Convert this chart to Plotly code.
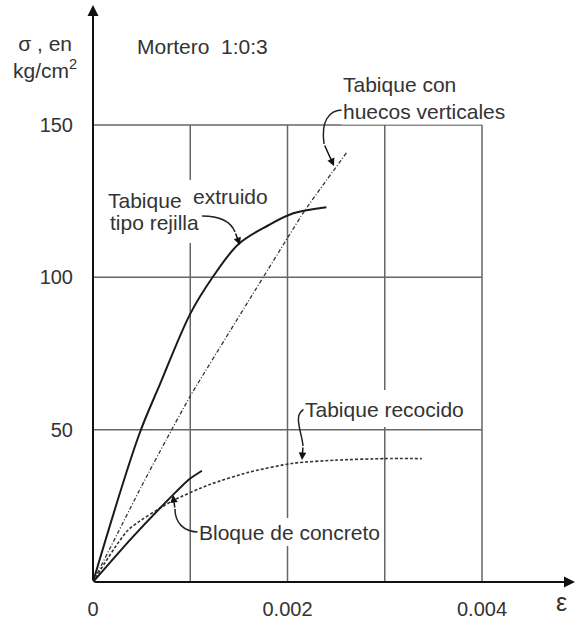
import plotly.graph_objects as go

# ---------------- data ----------------
ext_x = [0, 0.00047, 0.00069, 0.001, 0.00123, 0.0015, 0.0018, 0.00206, 0.0024]
ext_y = [0, 48, 65, 88, 100, 111, 117, 121, 123]

huecos_x = [0, 0.0005, 0.00075, 0.001, 0.00175, 0.00218, 0.00261]
huecos_y = [0, 31.5, 46.5, 61, 100, 122, 141]

recocido_x = [0, 0.00036, 0.00081, 0.0012, 0.0016, 0.00206, 0.0025, 0.003, 0.00338]
recocido_y = [0, 17, 26.5, 32, 36, 39, 40, 40.5, 40.5]

bloque_x = [0, 0.0004, 0.00082, 0.00098, 0.00112]
bloque_y = [0, 14.5, 28.5, 33.5, 36.5]

x_grid = [0.001, 0.002, 0.003, 0.004]
y_grid = [50, 100, 150]
x_tickvals = [0, 0.002, 0.004]
x_ticktext = ["0", "0.002", "0.004"]
y_tickvals = [50, 100, 150]
y_ticktext = ["50", "100", "150"]

# ---------------- layout geometry ----------------
W, H = 576, 621
L, R, T, B = 93, 0, 0, 39
PW, PH = W - L - R, H - T - B
XR = PW / 97.25 * 0.001
YR = PH / 3.047

def X(px):
    return (px - L) / PW * XR

def Y(py):
    return (T + PH - py) / PH * YR

def PX(px):
    return (px - L) / PW

def PY(py):
    return (T + PH - py) / PH

TXT = "#333333"
FONT = "Liberation Sans, Arial, sans-serif"

fig = go.Figure()
fig.add_trace(go.Scatter(x=ext_x, y=ext_y, mode="lines", line=dict(color="#1a1a1a", width=2, shape="spline", smoothing=1.0), hoverinfo="skip"))
fig.add_trace(go.Scatter(x=huecos_x, y=huecos_y, mode="lines", line=dict(color="#333333", width=1.3, dash="4px,2px,1px,2px", shape="spline", smoothing=0.5), hoverinfo="skip"))
fig.add_trace(go.Scatter(x=recocido_x, y=recocido_y, mode="lines", line=dict(color="#333333", width=1.6, dash="3px,2px", shape="spline", smoothing=0.6), hoverinfo="skip"))
fig.add_trace(go.Scatter(x=bloque_x, y=bloque_y, mode="lines", line=dict(color="#1a1a1a", width=2, shape="spline", smoothing=0.6), hoverinfo="skip"))

shapes = []
GRID = dict(color="#666666", width=1.5)
for gx in x_grid:
    shapes.append(dict(type="line", xref="x", yref="y", x0=gx, x1=gx, y0=0, y1=max(y_grid), line=GRID, layer="below"))
for gy in y_grid:
    shapes.append(dict(type="line", xref="x", yref="y", x0=0, x1=max(x_grid), y0=gy, y1=gy, line=GRID, layer="below"))
# white gaps in grid behind labels
for (a, b, c, d) in [(183, 180, 197, 243), (384, 390, 397, 427), (286, 518, 300, 546)]:
    shapes.append(dict(type="rect", xref="x", yref="y", x0=X(a), x1=X(c), y0=Y(d), y1=Y(b),
                       fillcolor="white", line=dict(width=0), layer="below"))

# curved leaders
def leader(pts):
    (x0, y0), (c1x, c1y), (c2x, c2y), (x1, y1) = pts
    return dict(type="path", xref="x", yref="y",
                path=f"M {X(x0)},{Y(y0)} C {X(c1x)},{Y(c1y)} {X(c2x)},{Y(c2y)} {X(x1)},{Y(y1)}",
                line=dict(color="#222222", width=1.5))

shapes.append(leader([(343, 110), (328, 110), (321, 122), (324, 144)]))
shapes.append(leader([(202, 216), (220, 216), (231, 222), (235, 232)]))
shapes.append(leader([(305, 409), (292, 414), (302, 432), (303, 446)]))
shapes.append(leader([(199, 532), (183, 532), (175, 522), (175, 509)]))

annotations = []

def arrow(tail, tip, width=1.5, size=1.0):
    annotations.append(dict(x=X(tip[0]), y=Y(tip[1]), ax=X(tail[0]), ay=Y(tail[1]),
                            xref="x", yref="y", axref="x", ayref="y", text="",
                            showarrow=True, arrowhead=2, arrowsize=size, arrowwidth=width,
                            arrowcolor="#111111", standoff=0, startstandoff=0))

# axes with arrowheads
arrow((93, 582), (575, 582), width=2, size=1.1)
arrow((93, 582), (93, 5), width=2, size=1.1)
# leader arrowheads
arrow((324, 144), (334, 166))
arrow((235, 232), (240, 245))
arrow((303, 446), (302, 460))
arrow((175, 509), (173, 495))

def text(s, px, py, anchor="left", size=21, bg=True, align="left"):
    annotations.append(dict(x=PX(px), y=PY(py), xref="paper", yref="paper", text=s, showarrow=False,
                            xanchor=anchor, yanchor="middle", align=align,
                            font=dict(family=FONT, size=size, color=TXT),
                            bgcolor="white" if bg else "rgba(0,0,0,0)", borderpad=1))

text("Mortero\u00a0\u00a01:0:3", 202, 46, anchor="center", bg=False)
text("Tabique con<br>huecos verticales", 341, 98)
text("Tabique", 106, 200, bg=False)
text("extruido", 191, 196, bg=False)
text("tipo rejilla", 108, 222, bg=False)
text("Tabique recocido", 303, 410)
text("Bloque de concreto", 197, 532)
text("ε", 561, 602, anchor="center", bg=False, size=25)
text("σ , en<br>kg/cm<sup>2</sup>", 45, 57, anchor="center", bg=False, size=21, align="center")

fig.update_layout(
    width=W, height=H,
    margin=dict(l=L, r=R, t=T, b=B, pad=0),
    paper_bgcolor="white", plot_bgcolor="white",
    showlegend=False,
    shapes=shapes, annotations=annotations,
    font=dict(family=FONT, size=20, color=TXT),
    xaxis=dict(range=[0, XR], showgrid=False, zeroline=False, showline=False,
               tickvals=x_tickvals, ticktext=x_ticktext, ticks="", ticklabelstandoff=13,
               tickfont=dict(family=FONT, size=20, color=TXT), fixedrange=True),
    yaxis=dict(range=[0, YR], showgrid=False, zeroline=False, showline=False,
               tickvals=y_tickvals, ticktext=y_ticktext, ticks="", ticklabelstandoff=19,
               tickfont=dict(family=FONT, size=20, color=TXT), fixedrange=True),
)

fig.write_html("out.html")
